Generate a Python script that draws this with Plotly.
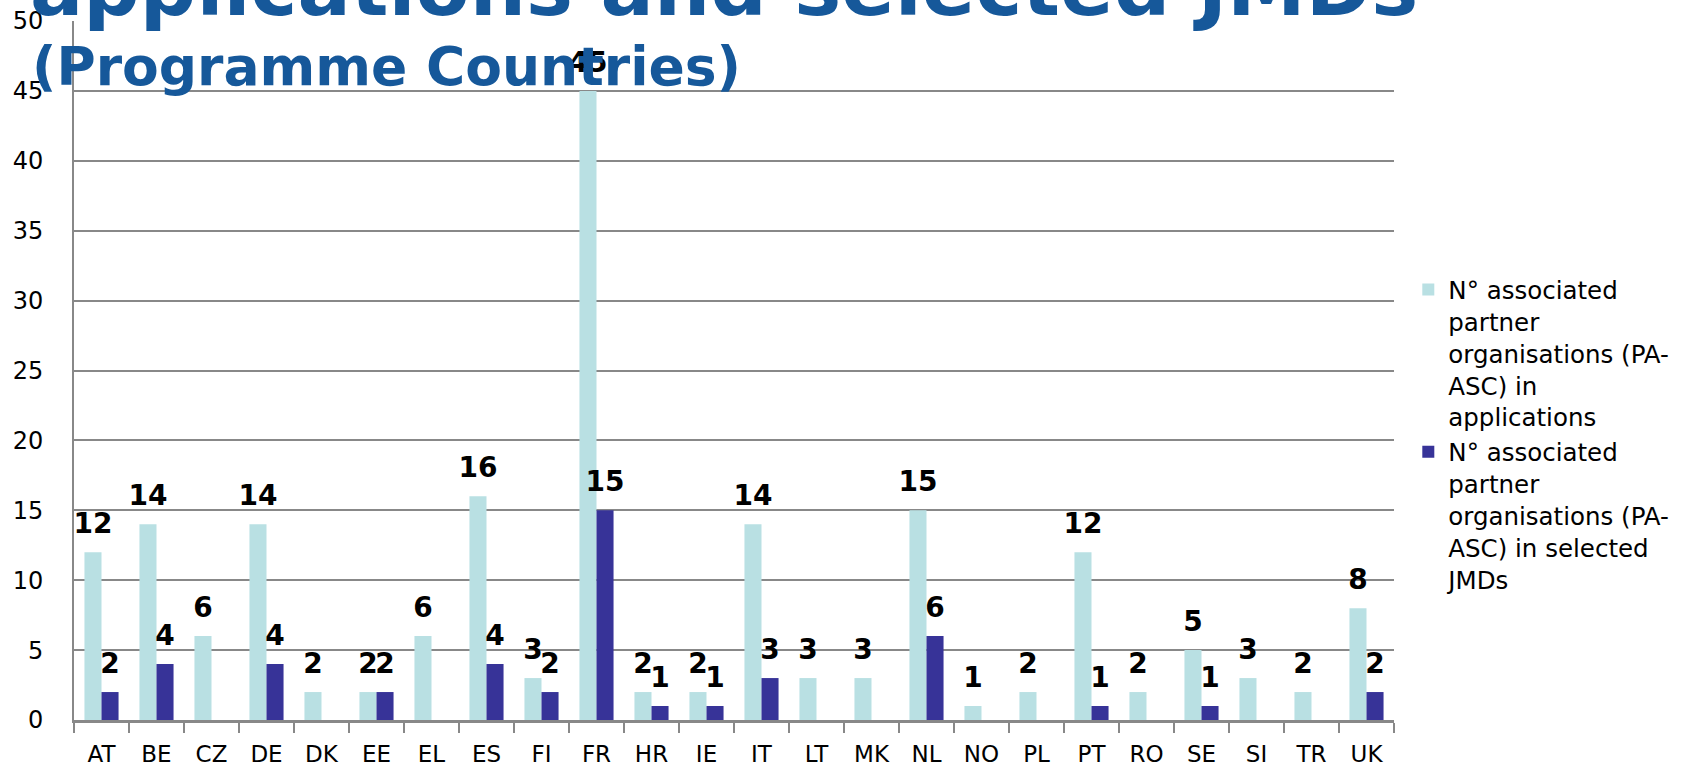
import plotly.graph_objects as go

countries = ["AT", "BE", "CZ", "DE", "DK", "EE", "EL", "ES", "FI", "FR", "HR", "IE",
             "IT", "LT", "MK", "NL", "NO", "PL", "PT", "RO", "SE", "SI", "TR", "UK"]
applications = [12, 14, 6, 14, 2, 2, 6, 16, 3, 45, 2, 2,
                14, 3, 3, 15, 1, 2, 12, 2, 5, 3, 2, 8]
selected = [2, 4, None, 4, None, 2, None, 4, 2, 15, 1, 1,
            3, None, None, 6, None, None, 1, None, 1, None, None, 2]

name_app = "N° associated<br>partner<br>organisations (PA-<br>ASC) in<br>applications"
name_sel = "N° associated<br>partner<br>organisations (PA-<br>ASC) in selected<br>JMDs"
title_line1 = "applications and selected JMDs"
title_line2 = "(Programme Countries)"

FONT = "DejaVu Sans"
label_font = dict(family=FONT, size=28, color="black", weight="bold")
colors = ["#B9E0E3", "#373398"]

fig = go.Figure()
for name, vals, col in [(name_app, applications, colors[0]), (name_sel, selected, colors[1])]:
    fig.add_trace(go.Bar(
        x=countries, y=vals, name=name,
        marker=dict(color=col, line=dict(width=0)),
        hoverinfo="x+y",
    ))
# value labels, grouped the same way as the bars
for vals in [applications, selected]:
    fig.add_trace(go.Scatter(
        x=countries, y=vals, mode="markers+text",
        text=[None if v is None else str(v) for v in vals],
        textposition="top center", textfont=label_font,
        marker=dict(size=18, color="rgba(0,0,0,0)"),
        showlegend=False, hoverinfo="skip", cliponaxis=False,
    ))

fig.update_layout(
    width=1706, height=768,
    margin=dict(l=74, r=312, t=21, b=48),
    paper_bgcolor="white", plot_bgcolor="white",
    barmode="group", bargap=0.38, bargroupgap=0,
    scattermode="group", scattergap=0.38,
    font=dict(family=FONT, color="black"),
    showlegend=True,
    legend=dict(
        xref="container", yref="container",
        x=0.8255, y=1 - 267 / 768, xanchor="left", yanchor="top",
        font=dict(family=FONT, size=24.5, color="black"),
        valign="top", tracegroupgap=0,
        bgcolor="rgba(0,0,0,0)",
    ),
    annotations=[
        dict(text=title_line1, xref="paper", yref="paper",
             x=-0.0345, y=0.979, xanchor="left", yanchor="bottom",
             align="left", showarrow=False,
             font=dict(family=FONT, size=79, color="#16589A", weight="bold")),
        dict(text=title_line2, xref="paper", yref="paper",
             x=-0.0335, y=0.8875, xanchor="left", yanchor="bottom",
             align="left", showarrow=False,
             font=dict(family=FONT, size=53.5, color="#16589A", weight="bold")),
    ],
)

fig.update_xaxes(
    type="category", automargin=False,
    showline=True, linecolor="#888888", linewidth=3,
    ticks="outside", tickson="boundaries", ticklen=10, tickwidth=2, tickcolor="#888888",
    tickfont=dict(family=FONT, size=23, color="black"),
    showgrid=False, ticklabelstandoff=11,
)
fig.update_yaxes(
    range=[0, 50], dtick=5, automargin=False,
    showline=True, linecolor="#888888", linewidth=2,
    showgrid=True, gridcolor="#888888", gridwidth=2,
    tickfont=dict(family=FONT, size=24, color="black"),
    ticks="", ticklabelstandoff=24, zeroline=False,
)

fig.write_html(
    "out.html",
    config={"displayModeBar": False},
    post_script="document.body.style.margin='0';document.body.style.overflow='hidden';",
)
